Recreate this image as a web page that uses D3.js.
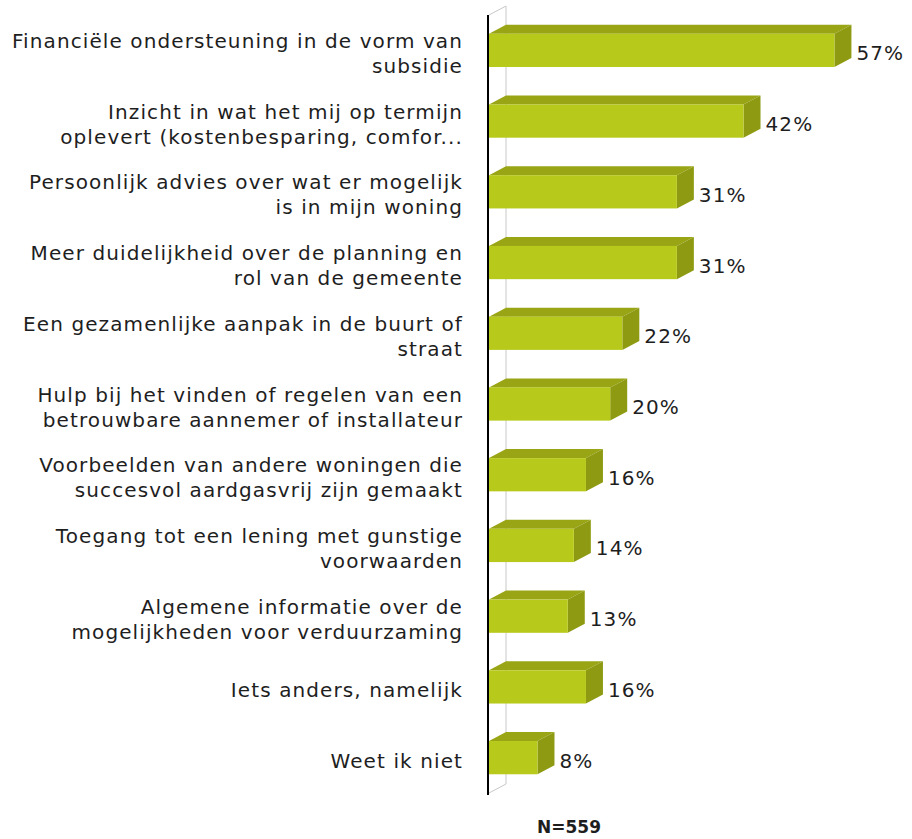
<!DOCTYPE html>
<html>
<head>
<meta charset="utf-8">
<script src="https://cdn.jsdelivr.net/npm/d3@7"></script>
<style>
  body { margin: 0; background: #fff; }
  svg { display: block; }
</style>
</head>
<body>
<script>
// categories (pre-wrapped, as in the original chart)
var categories = [
    ["Financiële ondersteuning in de vorm van", "subsidie"],
    ["Inzicht in wat het mij op termijn", "oplevert (kostenbesparing, comfor..."],
    ["Persoonlijk advies over wat er mogelijk", "is in mijn woning"],
    ["Meer duidelijkheid over de planning en", "rol van de gemeente"],
    ["Een gezamenlijke aanpak in de buurt of", "straat"],
    ["Hulp bij het vinden of regelen van een", "betrouwbare aannemer of installateur"],
    ["Voorbeelden van andere woningen die", "succesvol aardgasvrij zijn gemaakt"],
    ["Toegang tot een lening met gunstige", "voorwaarden"],
    ["Algemene informatie over de", "mogelijkheden voor verduurzaming"],
    ["Iets anders, namelijk"],
    ["Weet ik niet"]
];
var values = [57, 42, 31, 31, 22, 20, 16, 14, 13, 16, 8];
var footnote = "N=559";

var W = 912, H = 839;
var depthX = 17, depthY = 9;    // 3d offset of the bars

var svg = d3.select("body").append("svg")
    .attr("width", W)
    .attr("height", H);

var x = d3.scaleLinear()
    .domain([0, 100])
    .range([489, 489 + 606]);

var y = d3.scaleBand()
    .domain(d3.range(values.length))
    .range([15, 793])
    .paddingInner(0.53)
    .paddingOuter(0.265);

var font = "'DejaVu Sans', Verdana, sans-serif";
var spacing = "1.1px";      // DejaVu is narrower than the original Verdana

/* back wall + floor lines */
svg.append("path")
    .attr("d", "M" + x(0) + "," + 15 + "L" + (x(0) + depthX) + "," + (15 - depthY) +
               "L" + (x(0) + depthX) + "," + (793 - depthY) + "L" + x(0) + "," + 793)
    .attr("fill", "none")
    .attr("stroke", "#c8c8c8")
    .attr("stroke-width", 1);

/* bars */
var bars = svg.append("g").selectAll("g")
    .data(values)
    .enter()
    .append("g");

bars.append("path")     // top face
    .attr("d", function(d, i) {
        var x0 = x(0), x1 = x(d), y0 = y(i);
        return "M" + x0 + "," + y0 + "L" + (x0 + depthX) + "," + (y0 - depthY) +
               "L" + (x1 + depthX) + "," + (y0 - depthY) + "L" + x1 + "," + y0 + "Z";
    })
    .attr("fill", "#99a514");

bars.append("path")     // side face
    .attr("d", function(d, i) {
        var x1 = x(d), y0 = y(i), y1 = y(i) + y.bandwidth();
        return "M" + x1 + "," + y0 + "L" + (x1 + depthX) + "," + (y0 - depthY) +
               "L" + (x1 + depthX) + "," + (y1 - depthY) + "L" + x1 + "," + y1 + "Z";
    })
    .attr("fill", "#8e9b12");

bars.append("rect")     // front face
    .attr("x", x(0))
    .attr("y", function(d, i) { return y(i); })
    .attr("width", function(d) { return x(d) - x(0); })
    .attr("height", y.bandwidth())
    .attr("fill", "#b7ca1b");

bars.append("text")     // value labels
    .attr("x", function(d) { return x(d) + depthX + 5; })
    .attr("y", function(d, i) { return y(i) + y.bandwidth() / 2 + 10; })
    .attr("font-family", font)
    .attr("font-size", "20px")
    .attr("letter-spacing", spacing)
    .attr("fill", "#1e1e1e")
    .text(function(d) { return d + "%"; });

/* axis line */
svg.append("line")
    .attr("x1", x(0) - 1).attr("x2", x(0) - 1)
    .attr("y1", 15).attr("y2", 795)
    .attr("stroke", "#000")
    .attr("stroke-width", 2);

/* category labels */
var labels = svg.append("g").selectAll("text")
    .data(categories)
    .enter()
    .append("text")
    .attr("text-anchor", "end")
    .attr("font-family", font)
    .attr("font-size", "20px")
    .attr("letter-spacing", spacing)
    .attr("fill", "#1e1e1e")
    .attr("y", function(d, i) {
        return y(i) + y.bandwidth() / 2 + 10 - (d.length - 1) * 12.5;
    });

labels.selectAll("tspan")
    .data(function(d) { return d; })
    .enter()
    .append("tspan")
    .attr("x", 463)
    .attr("dy", function(d, j) { return j ? 25 : 0; })
    .text(function(d) { return d; });

/* footnote */
svg.append("text")
    .attr("x", 569)
    .attr("y", 833)
    .attr("text-anchor", "middle")
    .attr("font-family", font)
    .attr("font-size", "17px")
    .attr("font-weight", "bold")
    .attr("fill", "#1e1e1e")
    .text(footnote);
</script>
</body>
</html>
